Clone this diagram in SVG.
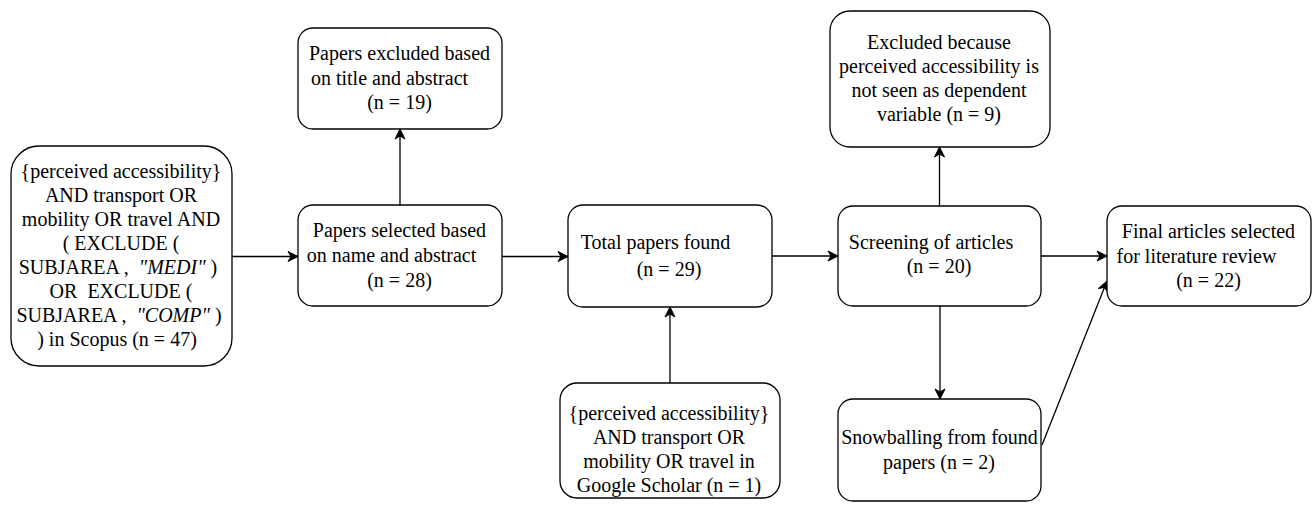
<svg xmlns="http://www.w3.org/2000/svg" width="1316" height="515" viewBox="0 0 1316 515">
  <style>
    .box { fill: #ffffff; stroke: #000000; stroke-width: 1.3; }
    .lbl { font-family: Liberation Serif, Times New Roman, Tinos, serif; font-size: 20px; fill: #000000; text-anchor: middle; white-space: pre; }
    .it { font-style: italic; }
    .edge { fill: none; stroke: #000000; stroke-width: 1.3; marker-end: url(#arrow); }
  </style>
  <defs>
    <marker id="arrow" markerUnits="userSpaceOnUse" markerWidth="12" markerHeight="12" viewBox="0 0 12 12" refX="11" refY="6" orient="auto">
      <path d="M1,1 L11,6 L1,11 L4,6 Z" fill="#000000" stroke="#000000" stroke-width="1"/>
    </marker>
  </defs>

  <g id="connectors">
    <line class="edge" x1="232" y1="256.5" x2="298" y2="256.5"/>
    <line class="edge" x1="400" y1="205" x2="400" y2="129"/>
    <line class="edge" x1="502" y1="256.5" x2="568" y2="256.5"/>
    <line class="edge" x1="670" y1="383" x2="670" y2="307"/>
    <line class="edge" x1="772" y1="256" x2="838" y2="256"/>
    <line class="edge" x1="939.5" y1="206" x2="939.5" y2="147"/>
    <line class="edge" x1="1041" y1="256" x2="1107" y2="256"/>
    <line class="edge" x1="940" y1="306" x2="940" y2="399"/>
    <line class="edge" x1="1042" y1="445" x2="1107" y2="281"/>
  </g>

  <g id="scopus-search">
    <rect class="box" x="11" y="146" width="221" height="220" rx="28" ry="28"/>
    <text class="lbl" font-family="Liberation Serif" x="121" y="178">{perceived accessibility}</text>
    <text class="lbl" font-family="Liberation Serif" x="121" y="202">AND transport OR</text>
    <text class="lbl" font-family="Liberation Serif" x="121" y="226">mobility OR travel AND</text>
    <text class="lbl" font-family="Liberation Serif" x="121" y="250">( EXCLUDE (</text>
    <text class="lbl" font-family="Liberation Serif" x="118" y="274">SUBJAREA ,  <tspan class="it">"MEDI"</tspan> )</text>
    <text class="lbl" font-family="Liberation Serif" x="121" y="298">OR  EXCLUDE (</text>
    <text class="lbl" font-family="Liberation Serif" x="119" y="322">SUBJAREA ,  <tspan class="it">"COMP"</tspan> )</text>
    <text class="lbl" font-family="Liberation Serif" x="117" y="346">) in Scopus (n = 47)</text>
  </g>

  <g id="excluded-title">
    <rect class="box" x="298" y="28" width="204" height="101" rx="15" ry="15"/>
    <text class="lbl" font-family="Liberation Serif" x="399.5" y="60">Papers excluded based</text>
    <text class="lbl" font-family="Liberation Serif" x="389.5" y="85">on title and abstract</text>
    <text class="lbl" font-family="Liberation Serif" x="399.5" y="109">(n = 19)</text>
  </g>

  <g id="selected-name">
    <rect class="box" x="298" y="205" width="204" height="101" rx="15" ry="15"/>
    <text class="lbl" font-family="Liberation Serif" x="399.5" y="237">Papers selected based</text>
    <text class="lbl" font-family="Liberation Serif" x="391.5" y="262">on name and abstract</text>
    <text class="lbl" font-family="Liberation Serif" x="399.5" y="287">(n = 28)</text>
  </g>

  <g id="total-found">
    <rect class="box" x="568" y="205" width="204" height="102" rx="15" ry="15"/>
    <text class="lbl" font-family="Liberation Serif" x="655.5" y="249">Total papers found</text>
    <text class="lbl" font-family="Liberation Serif" x="669" y="276">(n = 29)</text>
  </g>

  <g id="scholar-search">
    <rect class="box" x="560" y="383" width="220" height="115" rx="17" ry="17"/>
    <text class="lbl" font-family="Liberation Serif" x="669" y="420">{perceived accessibility}</text>
    <text class="lbl" font-family="Liberation Serif" x="669" y="444">AND transport OR</text>
    <text class="lbl" font-family="Liberation Serif" x="669" y="468">mobility OR travel in</text>
    <text class="lbl" font-family="Liberation Serif" x="669" y="492">Google Scholar (n = 1)</text>
  </g>

  <g id="screening">
    <rect class="box" x="838" y="206" width="203" height="100" rx="15" ry="15"/>
    <text class="lbl" font-family="Liberation Serif" x="931" y="249">Screening of articles</text>
    <text class="lbl" font-family="Liberation Serif" x="939" y="273">(n = 20)</text>
  </g>

  <g id="excluded-dependent">
    <rect class="box" x="830" y="11" width="220" height="136" rx="20" ry="20"/>
    <text class="lbl" font-family="Liberation Serif" x="939" y="49">Excluded because</text>
    <text class="lbl" font-family="Liberation Serif" x="939" y="73">perceived accessibility is</text>
    <text class="lbl" font-family="Liberation Serif" x="939" y="97">not seen as dependent</text>
    <text class="lbl" font-family="Liberation Serif" x="939" y="121">variable (n = 9)</text>
  </g>

  <g id="snowballing">
    <rect class="box" x="838" y="399" width="203" height="102" rx="15" ry="15"/>
    <text class="lbl" font-family="Liberation Serif" x="939.5" y="444">Snowballing from found</text>
    <text class="lbl" font-family="Liberation Serif" x="939" y="469">papers (n = 2)</text>
  </g>

  <g id="final-selection">
    <rect class="box" x="1107" y="206" width="204" height="100" rx="15" ry="15"/>
    <text class="lbl" font-family="Liberation Serif" x="1208.5" y="238">Final articles selected</text>
    <text class="lbl" font-family="Liberation Serif" x="1196.5" y="263">for literature review</text>
    <text class="lbl" font-family="Liberation Serif" x="1208.5" y="287">(n = 22)</text>
  </g>
</svg>
